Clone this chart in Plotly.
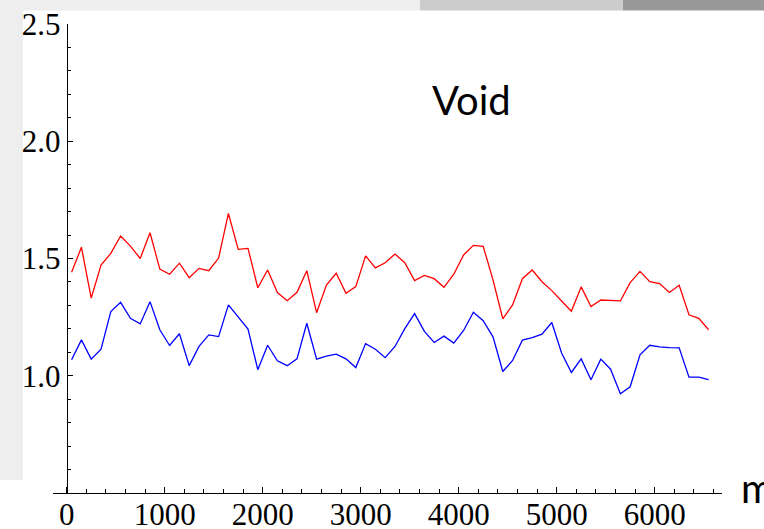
import plotly.graph_objects as go

W, H = 764, 529

x_vals = [50, 150, 250, 350, 450, 550, 650, 750, 850, 950,
          1050, 1150, 1250, 1350, 1450, 1550, 1650, 1750, 1850, 1950,
          2050, 2150, 2250, 2350, 2450, 2550, 2650, 2750, 2850, 2950,
          3050, 3150, 3250, 3350, 3450, 3550, 3650, 3750, 3850, 3950,
          4050, 4150, 4250, 4350, 4450, 4550, 4650, 4750, 4850, 4950,
          5050, 5150, 5250, 5350, 5450, 5550, 5650, 5750, 5850, 5950,
          6050, 6150, 6250, 6350, 6450, 6550]

red_vals = [1.441, 1.548, 1.331, 1.472, 1.522, 1.596, 1.553, 1.500, 1.610, 1.455,
            1.433, 1.480, 1.418, 1.458, 1.448, 1.502, 1.692, 1.539, 1.543, 1.375,
            1.451, 1.355, 1.320, 1.356, 1.448, 1.269, 1.387, 1.437, 1.352, 1.380,
            1.511, 1.460, 1.482, 1.519, 1.482, 1.406, 1.428, 1.414, 1.377, 1.433,
            1.515, 1.556, 1.552, 1.409, 1.243, 1.302, 1.414, 1.451, 1.401, 1.363,
            1.319, 1.275, 1.379, 1.295, 1.323, 1.320, 1.319, 1.397, 1.445, 1.401,
            1.393, 1.355, 1.386, 1.260, 1.245, 1.196]

blue_vals = [1.068, 1.153, 1.071, 1.113, 1.274, 1.313, 1.245, 1.221, 1.316, 1.196,
             1.129, 1.179, 1.043, 1.125, 1.174, 1.167, 1.302, 1.250, 1.199, 1.026,
             1.130, 1.064, 1.043, 1.072, 1.224, 1.071, 1.084, 1.092, 1.072, 1.035,
             1.137, 1.113, 1.077, 1.125, 1.201, 1.265, 1.189, 1.142, 1.169, 1.139,
             1.193, 1.271, 1.235, 1.166, 1.018, 1.065, 1.152, 1.163, 1.177, 1.227,
             1.097, 1.014, 1.072, 0.983, 1.071, 1.028, 0.923, 0.953, 1.089, 1.130,
             1.123, 1.120, 1.119, 0.994, 0.994, 0.983]

x_ticks = [0, 1000, 2000, 3000, 4000, 5000, 6000]
x_tick_text = ["0", "1000", "2000", "3000", "4000", "5000", "6000"]
y_ticks = [1.0, 1.5, 2.0, 2.5]
y_tick_text = ["1.0", "1.5", "2.0", "2.5"]

def px_x(p):
    return p / W

def px_y(p):
    return 1 - p / H

fig = go.Figure()
fig.add_trace(go.Scatter(x=x_vals, y=red_vals, mode="lines",
                         line=dict(color="#ff0000", width=1.3), showlegend=False))
fig.add_trace(go.Scatter(x=x_vals, y=blue_vals, mode="lines",
                         line=dict(color="#0000ff", width=1.3), showlegend=False))

tickfont = dict(family="Liberation Serif", size=31, color="black")

fig.update_layout(
    width=W, height=H,
    margin=dict(l=0, r=0, t=0, b=0),
    paper_bgcolor="white", plot_bgcolor="rgba(0,0,0,0)",
    xaxis=dict(
        domain=[px_x(53), px_x(722)], range=[-140, 6687],
        showgrid=False, zeroline=False, showline=True, linecolor="black", linewidth=1,
        tickmode="array", tickvals=x_ticks, ticktext=x_tick_text,
        ticks="inside", ticklen=6, tickcolor="black", tickwidth=1,
        minor=dict(tickmode="linear", tick0=0, dtick=200, ticks="inside", ticklen=4,
                   tickcolor="black", showgrid=False),
        tickfont=tickfont, anchor="y", automargin=False, ticklabelstandoff=-6,
    ),
    yaxis=dict(
        domain=[px_y(493), px_y(24)], range=[0.5, 2.5],
        anchor="free", position=px_x(66.7),
        showgrid=False, zeroline=False, showline=True, linecolor="black", linewidth=1,
        tickmode="array", tickvals=y_ticks, ticktext=y_tick_text,
        ticks="inside", ticklen=5, tickcolor="black", tickwidth=1,
        minor=dict(tickmode="linear", tick0=0.5, dtick=0.1, ticks="inside", ticklen=3.5,
                   tickcolor="black", showgrid=False),
        tickfont=tickfont, automargin=False,
    ),
    shapes=[
        dict(type="rect", xref="paper", yref="paper", x0=0, x1=px_x(23), y0=px_y(480), y1=1,
             fillcolor="#eeeeee", line=dict(width=0), layer="below"),
        dict(type="rect", xref="paper", yref="paper", x0=0, x1=px_x(420), y0=px_y(10.5), y1=1,
             fillcolor="#eeeeee", line=dict(width=0), layer="below"),
        dict(type="rect", xref="paper", yref="paper", x0=px_x(420), x1=px_x(623), y0=px_y(10.5), y1=1,
             fillcolor="#cccccc", line=dict(width=0), layer="below"),
        dict(type="rect", xref="paper", yref="paper", x0=px_x(623), x1=1, y0=px_y(10.5), y1=1,
             fillcolor="#999999", line=dict(width=0), layer="below"),
    ],
    annotations=[
        dict(text="Void", xref="paper", yref="paper", x=px_x(471.5), y=px_y(100),
             xanchor="center", yanchor="middle", showarrow=False,
             font=dict(family="Lato", size=40, color="black")),
        dict(text="m", xref="paper", yref="paper", x=px_x(739), y=px_y(488),
             xanchor="left", yanchor="middle", showarrow=False,
             font=dict(family="Lato", size=40, color="black")),
    ],
)

fig.write_html("out.html")
